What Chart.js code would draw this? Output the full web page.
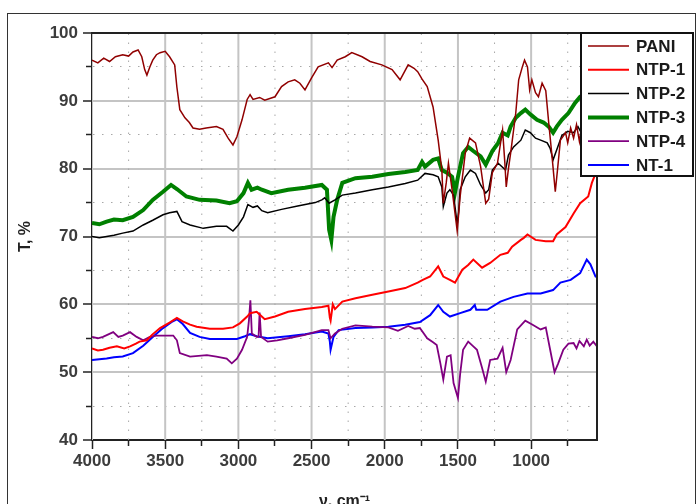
<!DOCTYPE html>
<html>
<head>
<meta charset="utf-8">
<script src="https://cdn.jsdelivr.net/npm/chart.js@4.4.1/dist/chart.umd.min.js"></script>
<style>
  html, body { margin: 0; padding: 0; background: #fff; overflow: hidden; }
  #wrap { width: 696px; height: 504px; overflow: hidden; position: relative; }
</style>
</head>
<body>
<div id="wrap"><canvas id="ftir" width="696" height="514"></canvas></div>
<script>
// ===============================
// Data (wavenumber cm-1, transmittance %)
// ===============================
const seriesLabels = ["PANI", "NTP-1", "NTP-2", "NTP-3", "NTP-4", "NT-1"];
const seriesColors = ["#900000", "#ff0000", "#000000", "#008000", "#800080", "#0000ff"];
const seriesWidths = [1.5, 2, 1.5, 4, 1.8, 2];

// tick positions (major ones get a label)
const xTickValues = [4000, 3750, 3500, 3250, 3000, 2750, 2500, 2250, 2000, 1750, 1500, 1250, 1000, 750];
const xTicksMajor = [4000, 3500, 3000, 2500, 2000, 1500, 1000];
const yTickValues = [40, 45, 50, 55, 60, 65, 70, 75, 80, 85, 90, 95, 100];
const yTicksMajor = [40, 50, 60, 70, 80, 90, 100];

const PANI = [
  [4000,96],[3960,95.6],[3920,96.3],[3880,95.8],[3840,96.5],[3790,96.8],[3750,96.6],[3720,97.2],
  [3685,97.5],[3660,96.5],[3640,94.6],[3625,93.8],[3605,95],[3585,96],[3560,96.8],[3535,97.1],
  [3500,97.3],[3470,96.5],[3435,95.3],[3420,92],[3400,88.7],[3365,87.5],[3335,86.8],[3310,86],
  [3265,85.8],[3220,86],[3150,86.2],[3105,85.8],[3070,84.5],[3037,83.5],[3010,84.7],[2975,87.2],
  [2940,90.2],[2920,90.9],[2900,90.2],[2855,90.5],[2820,90.1],[2750,90.6],[2705,92.1],[2660,92.8],
  [2615,93.1],[2580,92.6],[2545,91.6],[2500,93.4],[2455,95],[2385,95.6],[2360,94.9],[2325,96],
  [2270,96.5],[2225,97.1],[2155,96.5],[2100,95.8],[2020,95.3],[1950,94.6],[1895,93.1],[1840,95.3],
  [1800,94.8],[1775,94.3],[1745,93.2],[1710,92.1],[1670,89.1],[1635,84.2],[1610,79.8],[1600,74.9],
  [1580,77.9],[1565,80.8],[1540,76.9],[1505,70.8],[1485,75.9],[1450,82.3],[1420,84.5],[1380,83.8],
  [1345,80.3],[1310,74.9],[1290,75.5],[1265,79.4],[1230,80.8],[1195,85.7],[1180,81],[1170,77.3],
  [1155,80],[1140,82.3],[1105,88.2],[1085,93.1],[1060,95],[1045,96],[1025,95],[1010,91.6],
  [995,93.1],[970,91.2],[950,90.6],[925,92.6],[900,91.5],[880,86.8],[855,81.3],[835,76.6],
  [820,79.8],[800,84.2],[765,85.3],[750,83.8],[730,86],[710,84.5],[690,86.5],[670,84],
  [650,87],[630,85],[610,86.5],[590,85.5],[570,86],[550,85.5]
];
const NTP1 = [
  [4000,53.5],[3960,53.2],[3925,53.3],[3880,53.6],[3830,53.8],[3780,53.5],[3740,53.8],[3700,54.2],
  [3675,54.5],[3625,54.7],[3590,55.5],[3535,56.5],[3470,57.3],[3420,58],[3380,57.5],[3330,57],
  [3285,56.7],[3195,56.4],[3105,56.4],[3037,56.6],[2990,57.2],[2940,58.2],[2920,58.7],[2875,58.9],
  [2855,58.5],[2820,57.8],[2750,58.2],[2660,58.9],[2545,59.3],[2430,59.6],[2385,59.8],[2375,58],
  [2370,57.6],[2355,60],[2340,59.3],[2290,60.4],[2200,60.9],[2085,61.4],[1975,61.9],[1860,62.4],
  [1775,63.2],[1740,63.6],[1690,64.1],[1635,65.6],[1600,64.1],[1555,63.6],[1520,63.2],[1470,65.1],
  [1430,65.8],[1395,66.6],[1335,65.4],[1280,66.1],[1210,67.3],[1160,67.6],[1130,68.5],[1070,69.5],
  [1050,69.8],[1025,70.3],[970,69.5],[900,69.3],[850,69.3],[825,70.3],[765,71.4],[710,73.4],
  [665,74.9],[610,75.9],[585,77.9],[565,79],[550,80]
];
const NTP2 = [
  [4000,70],[3950,69.8],[3900,70],[3850,70.2],[3790,70.5],[3720,70.8],[3650,71.7],[3585,72.4],
  [3515,73.2],[3470,73.5],[3420,73.7],[3385,72.2],[3330,71.7],[3240,71.2],[3150,71.5],[3080,71.5],
  [3037,70.8],[3000,71.7],[2965,72.9],[2935,74.7],[2900,74.3],[2870,74.5],[2840,73.8],[2800,73.5],
  [2705,74],[2595,74.5],[2475,75],[2430,75.4],[2410,75.7],[2380,74.9],[2340,75.4],[2290,76.1],
  [2200,76.4],[2085,76.9],[1975,77.3],[1860,77.8],[1775,78.3],[1725,79.3],[1670,79.1],[1635,78.8],
  [1610,77.3],[1600,74.4],[1575,76.4],[1555,76.9],[1530,76.1],[1505,71.8],[1495,73.7],[1485,76.9],
  [1450,78.8],[1415,79.8],[1380,79.3],[1345,77.6],[1310,76.4],[1290,76.9],[1265,79.8],[1225,80.8],
  [1175,79.8],[1155,82],[1120,83.2],[1070,84.2],[1040,85.7],[1005,85.3],[970,84.5],[935,84.2],
  [890,83.8],[870,83],[850,81.3],[825,82.8],[790,84.9],[750,85.5],[710,85.3],[680,86.2],
  [650,85],[620,86.5],[590,86],[550,86]
];
const NTP3 = [
  [4000,72],[3950,71.8],[3900,72.2],[3850,72.5],[3790,72.4],[3720,72.9],[3650,73.9],[3585,75.4],
  [3515,76.6],[3460,77.6],[3420,77],[3355,75.9],[3265,75.4],[3150,75.3],[3060,74.9],[3010,75.2],
  [2965,76.4],[2935,77.9],[2910,76.9],[2870,77.2],[2840,76.9],[2775,76.4],[2660,76.9],[2545,77.2],
  [2430,77.6],[2395,76.9],[2385,73],[2380,71],[2365,69.5],[2350,72.9],[2325,75.4],[2290,77.9],
  [2200,78.6],[2085,78.8],[1975,79.2],[1860,79.5],[1775,79.8],[1745,81],[1725,80.3],[1670,81.3],
  [1635,81.5],[1610,79.8],[1575,79.4],[1540,78.8],[1520,76.5],[1500,78.8],[1465,82.3],[1430,83.2],
  [1395,82.6],[1345,81.8],[1310,80.6],[1265,82.6],[1225,83.8],[1195,85.3],[1160,84.9],[1140,86.2],
  [1105,87.5],[1070,88.2],[1040,88.7],[1005,88],[960,87.2],[915,86.8],[880,86.2],[850,85.3],
  [825,86.2],[790,87.2],[745,88.2],[700,89.7],[665,90.6],[620,91.2],[550,91.8]
];
const NTP4 = [
  [4000,55.2],[3960,55],[3925,55.2],[3855,55.9],[3820,55.2],[3790,55.4],[3740,55.9],[3695,55.2],
  [3650,54.7],[3605,55.2],[3560,55.4],[3445,55.4],[3420,54.7],[3400,52.8],[3330,52.3],[3215,52.5],
  [3150,52.3],[3080,52],[3045,51.3],[3010,52],[2975,53.3],[2940,55.2],[2928,57.6],[2918,60.6],
  [2908,55.7],[2875,55.2],[2862,55.2],[2855,58.8],[2845,55.2],[2800,54.5],[2735,54.7],[2660,55],
  [2545,55.5],[2430,56.2],[2385,56.2],[2370,55],[2340,55.7],[2290,56.4],[2200,56.9],[2085,56.7],
  [1975,56.6],[1910,56.1],[1840,56.8],[1795,56.4],[1760,56.5],[1710,55],[1670,54.4],[1645,54],
  [1620,51.3],[1600,48.9],[1575,52.3],[1550,52.5],[1530,48.4],[1500,46.2],[1485,49.7],[1465,53.3],
  [1430,54.5],[1395,53.8],[1370,53.3],[1335,50.6],[1310,48.6],[1280,51.8],[1230,52],[1195,53.6],
  [1170,50],[1140,51.8],[1095,56.3],[1040,57.6],[990,57],[935,56.3],[900,56.6],[870,53.3],
  [840,50],[815,51.3],[780,53.3],[745,54.2],[710,54.3],[690,53.5],[670,54.6],[640,53.8],
  [620,54.8],[600,53.9],[575,54.5],[550,53.8]
];
const NT1 = [
  [4000,51.8],[3950,51.9],[3900,52],[3850,52.2],[3790,52.3],[3720,52.8],[3650,53.9],[3585,55.2],
  [3515,56.5],[3455,57.4],[3420,57.8],[3380,57.1],[3330,55.8],[3265,55.2],[3195,54.9],[3105,54.9],
  [3010,54.9],[2955,55.3],[2920,55.6],[2875,55.3],[2800,55],[2660,55.3],[2545,55.6],[2430,56],
  [2385,55.7],[2375,54.5],[2370,53.3],[2350,55.2],[2315,56.2],[2200,56.5],[2085,56.6],[1975,56.7],
  [1860,57],[1760,57.4],[1690,58.4],[1635,59.9],[1600,58.9],[1555,58.2],[1485,58.7],[1415,59.2],
  [1385,59.9],[1375,59.2],[1300,59.2],[1210,60.4],[1120,61.1],[1025,61.6],[935,61.6],[850,62.1],
  [800,63.2],[730,63.6],[665,64.6],[620,66.6],[595,65.9],[560,64.1],[550,64]
];
const seriesData = [PANI, NTP1, NTP2, NTP3, NTP4, NT1];

const FONT = "'Liberation Sans', Arial, sans-serif";
const MAJOR_GRID = "#c4c4c4";
const MINOR_GRID = "#a8a8a8";

const isMajorX = v => xTicksMajor.includes(v);
const isMajorY = v => yTicksMajor.includes(v);

// ===============================
// Datasets: spectra + vertical grid lines (placed by the x scale)
// ===============================
const spectra = seriesLabels.map((label, i) => ({
  label,
  data: seriesData[i].map(p => ({ x: p[0], y: p[1] })),
  borderColor: seriesColors[i],
  borderWidth: seriesWidths[i],
  pointRadius: 0,
  tension: 0,
  fill: false,
  order: 0
}));

const gridLines = xTickValues.map(v => ({
  label: "",
  isGrid: true,
  data: [{ x: v, y: 40 }, { x: v, y: 100 }],
  borderColor: isMajorX(v) ? MAJOR_GRID : MINOR_GRID,
  borderWidth: isMajorX(v) ? 2 : 1,
  borderDash: isMajorX(v) ? [] : [1.5, 7.5],
  pointRadius: 0,
  tension: 0,
  fill: false,
  order: 1
}));

// ===============================
// Plugins
// ===============================
const framePlugin = {
  id: "frame",
  beforeDraw(chart) {
    const ctx = chart.ctx;
    ctx.save();
    ctx.fillStyle = "#fff";
    ctx.fillRect(0, 0, chart.width, chart.height);
    ctx.strokeStyle = "#333";
    ctx.lineWidth = 1;
    ctx.strokeRect(7.5, 13.5, 688, 520);
    ctx.restore();
  },
  afterDraw(chart) {
    const { ctx, chartArea: a } = chart;
    ctx.save();
    ctx.strokeStyle = "#222";
    ctx.lineWidth = 2;
    ctx.beginPath();
    ctx.moveTo(a.left, a.top);
    ctx.lineTo(a.right, a.top);
    ctx.lineTo(a.right, a.bottom);
    ctx.stroke();
    ctx.restore();
  }
};

const boxLegend = {
  id: "boxLegend",
  afterDraw(chart) {
    const ctx = chart.ctx;
    const x0 = 581, y0 = 33, w = 112, h = 143, row = 23.8;
    ctx.save();
    ctx.fillStyle = "#fff";
    ctx.fillRect(x0, y0, w, h);
    ctx.strokeStyle = "#111";
    ctx.lineWidth = 2;
    ctx.strokeRect(x0, y0, w, h);
    ctx.font = "bold 17px " + FONT;
    ctx.textBaseline = "middle";
    chart.data.datasets.filter(ds => !ds.isGrid).forEach((ds, i) => {
      const y = y0 + 13 + i * row;
      ctx.strokeStyle = ds.borderColor;
      ctx.lineWidth = ds.borderWidth;
      ctx.beginPath();
      ctx.moveTo(588, y);
      ctx.lineTo(629, y);
      ctx.stroke();
      ctx.fillStyle = "#1a1a1a";
      ctx.fillText(ds.label, 636, y + 1);
    });
    ctx.restore();
  }
};

// ===============================
// Chart
// ===============================
new Chart(document.getElementById("ftir"), {
  type: "line",
  data: { datasets: spectra.concat(gridLines) },
  options: {
    responsive: false,
    animation: false,
    devicePixelRatio: 1,
    layout: { padding: { left: 0, right: 99, top: 33, bottom: 0 } },
    plugins: { legend: { display: false }, tooltip: { enabled: false } },
    scales: {
      x: {
        type: "linear",
        reverse: true,
        min: 550,
        max: 4000,
        afterBuildTicks: s => { s.ticks = xTickValues.map(v => ({ value: v })); },
        afterFit: s => { s.height = 74; },
        ticks: {
          autoSkip: false,
          maxRotation: 0,
          padding: 2,
          color: "#3c3c3c",
          font: { family: FONT, size: 17, weight: "bold" },
          callback: v => (isMajorX(v) ? String(v) : "")
        },
        grid: {
          drawOnChartArea: false,
          tickColor: "#222",
          tickWidth: 1.5,
          tickLength: 9,
          tickBorderDash: c => (c.tick && isMajorX(c.tick.value) ? [] : [5, 20])
        },
        border: { color: "#222", width: 2 },
        title: {
          display: true,
          text: "\u03bd, cm\u207b\u00b9",
          color: "#222",
          font: { family: FONT, size: 16, weight: "bold" },
          padding: { top: 0, bottom: 3 }
        }
      },
      y: {
        min: 40,
        max: 100,
        afterBuildTicks: s => { s.ticks = yTickValues.map(v => ({ value: v })); },
        afterFit: s => { s.width = 92; },
        ticks: {
          autoSkip: false,
          padding: 5,
          color: "#3c3c3c",
          font: { family: FONT, size: 17, weight: "bold" },
          callback: v => (isMajorY(v) ? String(v) : "")
        },
        grid: {
          color: c => (c.tick && isMajorY(c.tick.value) ? MAJOR_GRID : MINOR_GRID),
          lineWidth: c => (c.tick && isMajorY(c.tick.value) ? 2 : 1),
          tickColor: "#222",
          tickWidth: 1.5,
          tickLength: 9,
          tickBorderDash: c => (c.tick && isMajorY(c.tick.value) ? [] : [5, 3]),
          tickBorderDashOffset: c => (c.tick && isMajorY(c.tick.value) ? 0 : 5)
        },
        border: {
          color: "#222",
          width: 2,
          dash: c => (c.tick && !isMajorY(c.tick.value) ? [1.5, 7.5] : [])
        },
        title: {
          display: true,
          text: "T, %",
          color: "#222",
          font: { family: FONT, size: 16, weight: "bold" },
          padding: { top: 16, bottom: 0 }
        }
      }
    }
  },
  plugins: [framePlugin, boxLegend]
});
</script>
</body>
</html>
